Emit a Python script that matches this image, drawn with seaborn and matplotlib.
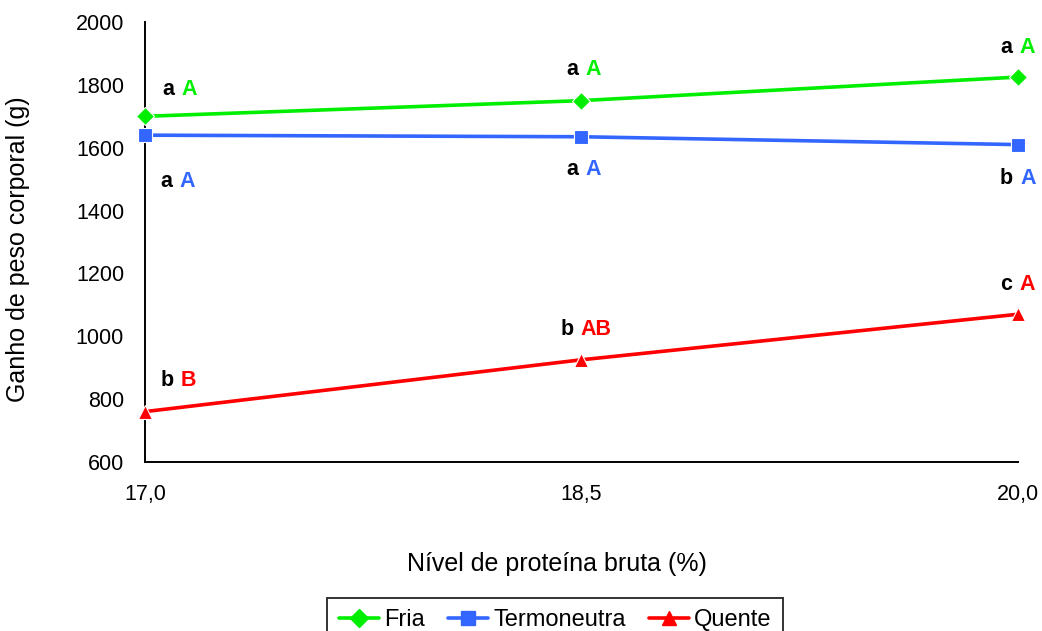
import numpy as np
import pandas as pd
import matplotlib
matplotlib.use("Agg")
import matplotlib.pyplot as plt
import seaborn as sns

# Dados
niveis = [17.0, 18.5, 20.0]
fria = [1700, 1750, 1825]
termoneutra = [1640, 1635, 1610]
quente = [760, 925, 1070]

letras_min_fria = ["a", "a", "a"]
letras_mai_fria = ["A", "A", "A"]
letras_min_termo = ["a", "a", "b"]
letras_mai_termo = ["A", "A", "A"]
letras_min_quente = ["b", "b", "c"]
letras_mai_quente = ["B", "AB", "A"]

series = ["Fria", "Termoneutra", "Quente"]
cores = {"Fria": "#00ee00", "Termoneutra": "#3366ff", "Quente": "#ff0000"}
marcadores = {"Fria": "D", "Termoneutra": "s", "Quente": "^"}

df = pd.DataFrame({
    "nivel": niveis * 3,
    "ganho": fria + termoneutra + quente,
    "ambiente": ["Fria"] * 3 + ["Termoneutra"] * 3 + ["Quente"] * 3,
})

sns.set_style("white")
plt.rcParams["font.family"] = ["Liberation Sans", "DejaVu Sans"]
plt.rcParams["text.color"] = "black"
plt.rcParams["xtick.color"] = "black"
plt.rcParams["ytick.color"] = "black"
plt.rcParams["axes.labelcolor"] = "black"

fig = plt.figure(figsize=(10.42, 6.31), dpi=100)
ax = fig.add_axes([0.139, 0.268, 0.838, 0.697])

sns.lineplot(data=df, x="nivel", y="ganho", hue="ambiente", style="ambiente",
             hue_order=series, style_order=series, palette=cores,
             markers=marcadores, dashes=False, linewidth=2.6, markersize=9.5,
             markeredgewidth=0.8, ax=ax, legend=False, zorder=3, clip_on=False)

ax.set_xlim(17.0, 20.0)
ax.set_ylim(600, 2000)
ax.set_xticks(niveis)
ax.set_xticklabels([f"{v:.1f}".replace(".", ",") for v in niveis], fontsize=15.5)
ax.set_yticks(np.arange(600, 2001, 200))
ax.set_yticklabels([str(v) for v in range(600, 2001, 200)], fontsize=15.5)
ax.tick_params(axis="y", length=0, pad=15)
ax.tick_params(axis="x", length=0, pad=16)
for lado in ["top", "right"]:
    ax.spines[lado].set_visible(False)
for lado in ["left", "bottom"]:
    ax.spines[lado].set_color("black")
    ax.spines[lado].set_linewidth(1.4)

ax.set_xlabel("Nível de proteína bruta (%)", fontsize=18)
ax.set_ylabel("Ganho de peso corporal (g)", fontsize=18)
ax.xaxis.set_label_coords(0.472, -0.205)
ax.yaxis.set_label_coords(-0.131, 0.484)

# deslocamento dos rótulos (pixels)
desloc = {
    "Fria": [(33, 27), (0, 31), (-3, 30)],
    "Termoneutra": [(31, -46), (0, -33), (-2, -34)],
    "Quente": [(32, 31), (-5, 30), (-3, 30)],
}
letras = {
    "Fria": (fria, letras_min_fria, letras_mai_fria),
    "Termoneutra": (termoneutra, letras_min_termo, letras_mai_termo),
    "Quente": (quente, letras_min_quente, letras_mai_quente),
}
for s in series:
    vals, mins, mais = letras[s]
    for i, x in enumerate(niveis):
        dx, dy = desloc[s][i]
        ax.annotate(mins[i], (x, vals[i]), xytext=(dx - 3, dy),
                    textcoords="offset pixels", ha="right", va="center",
                    fontsize=15.5, fontweight="bold", color="black",
                    annotation_clip=False)
        ax.annotate(mais[i], (x, vals[i]), xytext=(dx + 4, dy),
                    textcoords="offset pixels", ha="left", va="center",
                    fontsize=15.5, fontweight="bold", color=cores[s],
                    annotation_clip=False)

handles = [plt.Line2D([], [], color=cores[s], marker=marcadores[s],
                      linewidth=2.6, markersize=9.5) for s in series]
leg = fig.legend(handles, series, loc="upper center", bbox_to_anchor=(0.533, 0.053),
                 ncol=3, fontsize=17, frameon=True, fancybox=False,
                 handlelength=1.7, columnspacing=1.0, handletextpad=0.2,
                 borderpad=0.5, borderaxespad=0)
leg.get_frame().set_edgecolor("black")
leg.get_frame().set_linewidth(1.4)

fig.savefig("out.png", dpi=100)
